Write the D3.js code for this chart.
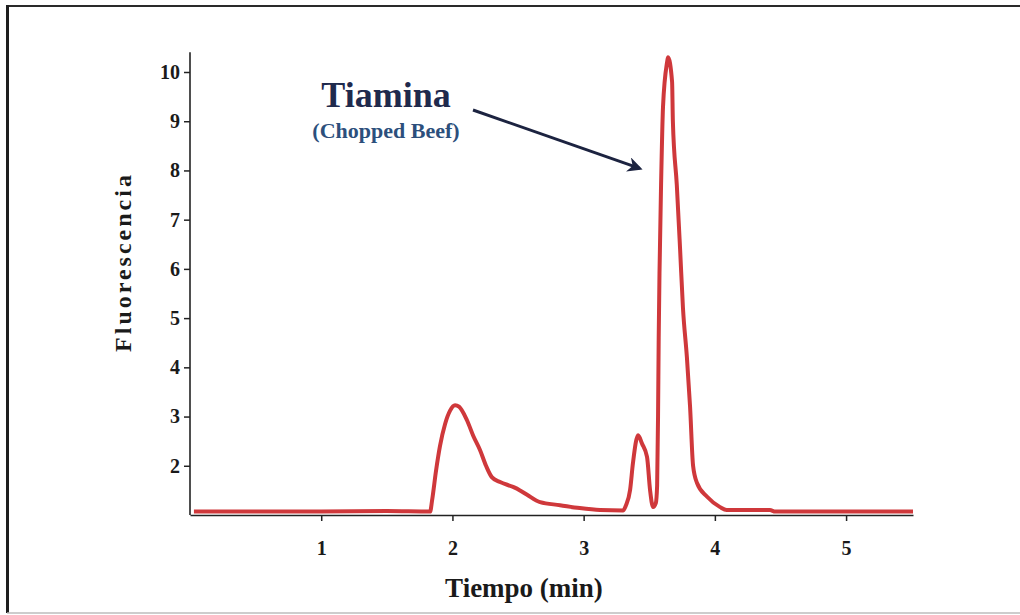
<!DOCTYPE html>
<html>
<head>
<meta charset="utf-8">
<script src="https://cdn.jsdelivr.net/npm/d3@7"></script>
<style>
  html, body { margin: 0; padding: 0; background: #fff; }
  svg { display: block; }
</style>
</head>
<body>
<svg id="chart" width="1020" height="615"></svg>
<script>
// ---- data ----
const time = [0.03, 0.5, 1.0, 1.5, 1.83, 1.845, 1.875, 1.905, 1.944, 1.982, 2.02, 2.05, 2.11, 2.16, 2.21, 2.256, 2.30, 2.363, 2.462, 2.515, 2.569, 2.668, 2.82, 2.97, 3.125, 3.30, 3.323, 3.354, 3.376, 3.415, 3.445, 3.483, 3.506, 3.529, 3.55, 3.56, 3.567, 3.572, 3.578, 3.59, 3.605, 3.636, 3.643, 3.674, 3.68, 3.71, 3.735, 3.757, 3.787, 3.811, 3.834, 3.864, 3.941, 4.04, 4.09, 4.42, 4.46, 5.0, 5.51];
const fluor = [1.07, 1.07, 1.07, 1.08, 1.07, 1.3, 1.9, 2.4, 2.85, 3.12, 3.23, 3.2, 2.93, 2.6, 2.32, 2.0, 1.77, 1.67, 1.57, 1.5, 1.41, 1.26, 1.20, 1.14, 1.10, 1.09, 1.2, 1.51, 2.06, 2.62, 2.45, 2.18, 1.51, 1.16, 1.24, 1.6, 3.0, 4.6, 5.9, 7.7, 9.3, 10.2, 10.3, 9.8, 9.0, 7.7, 6.4, 5.2, 4.2, 3.2, 2.0, 1.65, 1.37, 1.16, 1.10, 1.10, 1.07, 1.07, 1.07];
const xTicks = [1, 2, 3, 4, 5];
const yTicks = [2, 3, 4, 5, 6, 7, 8, 9, 10];
const xTitle = "Tiempo (min)";
const yTitle = "Fluorescencia";
const noteTitle = "Tiamina";
const noteSub = "(Chopped Beef)";
const notePoint = [3.58, 8.0];

const svg = d3.select("#chart");
const serif = "'Liberation Serif', 'Times New Roman', serif";

// frame
svg.append("line").attr("x1", 6).attr("x2", 1020).attr("y1", 6).attr("y2", 6)
  .attr("stroke", "#2a2a2a").attr("stroke-width", 2);
svg.append("line").attr("x1", 7.5).attr("x2", 7.5).attr("y1", 5).attr("y2", 613)
  .attr("stroke", "#1e1e1e").attr("stroke-width", 3);
svg.append("line").attr("x1", 7).attr("x2", 1020).attr("y1", 613).attr("y2", 613)
  .attr("stroke", "#bdbdbd").attr("stroke-width", 1.5);

const x = d3.scaleLinear().domain([0, 5.51]).range([190, 913]);
const y = d3.scaleLinear().domain([1, 10]).range([515, 72]);

// axes
const xAxis = d3.axisBottom(x).tickValues(xTicks).tickFormat(d3.format("d")).tickSize(6).tickSizeOuter(0);
const gx = svg.append("g").attr("transform", "translate(0,515)").call(xAxis);
gx.select(".domain").attr("stroke", "#222").attr("stroke-width", 1.6);
gx.selectAll(".tick line").attr("stroke", "#222").attr("stroke-width", 1.5);
gx.selectAll(".tick text").attr("font-family", serif).attr("font-weight", "bold")
  .attr("font-size", 20).attr("fill", "#1a1a1a").attr("dy", "1.55em");

const yAxis = d3.axisLeft(y).tickValues(yTicks).tickFormat(d3.format("d")).tickSize(6).tickSizeOuter(0);
const gy = svg.append("g").attr("transform", "translate(190,0)").call(yAxis);
gy.select(".domain").attr("d", `M0,${y(10.4)}V${y(1)}`).attr("stroke", "#222").attr("stroke-width", 1.6);
gy.selectAll(".tick line").attr("stroke", "#222").attr("stroke-width", 1.5);
gy.selectAll(".tick text").attr("font-family", serif).attr("font-weight", "bold")
  .attr("font-size", 20).attr("fill", "#1a1a1a").attr("x", -10);

// axis titles
svg.append("text").attr("x", 524).attr("y", 597).attr("text-anchor", "middle")
  .attr("font-family", serif).attr("font-weight", "bold").attr("font-size", 27)
  .attr("fill", "#1a1a1a").text(xTitle);
svg.append("text").attr("transform", "translate(131,262) rotate(-90)").attr("text-anchor", "middle")
  .attr("font-family", serif).attr("font-weight", "bold").attr("font-size", 24)
  .attr("letter-spacing", 3).attr("fill", "#1a1a1a").text(yTitle);

// curve
const pts = time.map((t, i) => [t, fluor[i]]);
const line = d3.line().x(d => x(d[0])).y(d => y(d[1])).curve(d3.curveMonotoneX);
svg.append("path").datum(pts).attr("d", line).attr("fill", "none")
  .attr("stroke", "#cf383b").attr("stroke-width", 4).attr("stroke-linejoin", "round");

// annotation
svg.append("text").attr("x", 386).attr("y", 107).attr("text-anchor", "middle")
  .attr("font-family", serif).attr("font-weight", "bold").attr("font-size", 36)
  .attr("fill", "#1f2a4d").text(noteTitle);
svg.append("text").attr("x", 386).attr("y", 138).attr("text-anchor", "middle")
  .attr("font-family", serif).attr("font-weight", "bold").attr("font-size", 22)
  .attr("fill", "#2c4f7c").text(noteSub);

const defs = svg.append("defs");
defs.append("marker").attr("id", "arrow").attr("viewBox", "0 0 10 10")
  .attr("refX", 8).attr("refY", 5).attr("markerWidth", 5).attr("markerHeight", 5)
  .attr("orient", "auto").attr("markerUnits", "strokeWidth")
  .append("path").attr("d", "M0,0 L10,5 L0,10 L3,5 Z").attr("fill", "#1c2340");
svg.append("line").attr("x1", 473).attr("y1", 110)
  .attr("x2", x(notePoint[0]) - 20).attr("y2", y(notePoint[1]) - 2)
  .attr("stroke", "#1c2340").attr("stroke-width", 3).attr("marker-end", "url(#arrow)");
</script>
</body>
</html>
